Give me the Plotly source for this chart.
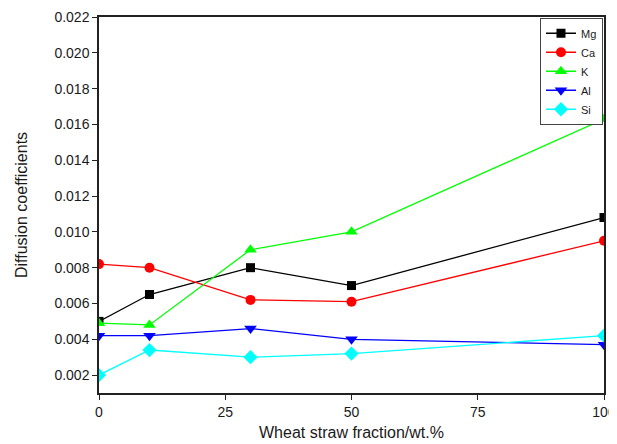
import plotly.graph_objects as go

fraction = [0, 10, 30, 50, 100]
mg = [0.0050, 0.0065, 0.0080, 0.0070, 0.0108]
ca = [0.0082, 0.0080, 0.0062, 0.0061, 0.0095]
k = [0.0049, 0.0048, 0.0090, 0.0100, 0.0163]
al = [0.0042, 0.0042, 0.0046, 0.0040, 0.0037]
si = [0.0020, 0.0034, 0.0030, 0.0032, 0.0042]

series = [
    ("Mg", mg, "#000000", "square", 9),
    ("Ca", ca, "#FF0000", "circle", 10),
    ("K", k, "#00FF00", "triangle-up", 11),
    ("Al", al, "#0000FF", "triangle-down", 11),
    ("Si", si, "#00FFFF", "diamond", 11),
]

fig = go.Figure()
for name, vals, color, sym, sz in series:
    fig.add_trace(go.Scatter(
        x=fraction, y=vals, name=name, mode="lines+markers",
        line=dict(color=color, width=1.3),
        marker=dict(symbol=sym, size=sz, color=color),
    ))

font = "Arial, Liberation Sans, sans-serif"
# the page body adds an 8px offset, so the figure is sized to fit the window
fig.update_layout(
    width=609, height=436,
    margin=dict(l=91, r=13, t=9, b=51, autoexpand=False),
    paper_bgcolor="white", plot_bgcolor="white",
    font=dict(family=font, color="#1a1a1a", size=14),
    showlegend=True,
    legend=dict(x=0.998, y=0.998, xanchor="right", yanchor="top",
                bordercolor="#444444", borderwidth=1, bgcolor="white",
                font=dict(size=11, family=font), tracegroupgap=0,
                itemwidth=30),
)
fig.update_xaxes(
    range=[0, 100], tickvals=[0, 25, 50, 75, 100],
    showgrid=False, zeroline=False, automargin=False,
    showline=True, linecolor="#222222", linewidth=1.5, mirror=True,
    ticks="outside", ticklen=5, tickcolor="#222222", tickwidth=1.2,
    title=dict(text="Wheat straw fraction/wt.%", font=dict(size=16), standoff=8),
    tickfont=dict(size=14),
)
fig.update_yaxes(
    range=[0.001, 0.022], tickvals=[0.002, 0.004, 0.006, 0.008, 0.010, 0.012,
                                    0.014, 0.016, 0.018, 0.020, 0.022],
    tickformat=".3f",
    showgrid=False, zeroline=False, automargin=False,
    showline=True, linecolor="#222222", linewidth=1.5, mirror=True,
    ticks="outside", ticklen=5, tickcolor="#222222", tickwidth=1.2,
    title=dict(text="Diffusion coefficients", font=dict(size=16), standoff=23),
    tickfont=dict(size=14),
)

fig.write_html("out.html")
